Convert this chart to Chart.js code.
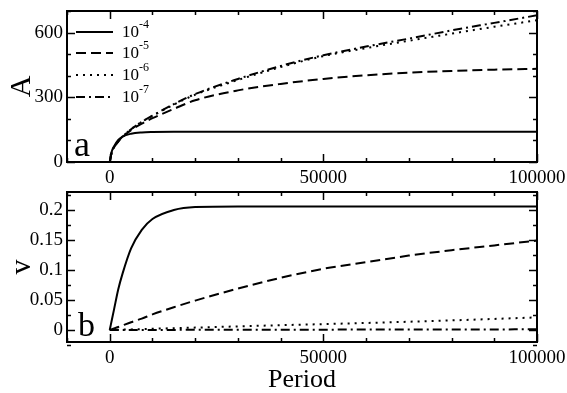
<!DOCTYPE html>
<html>
<head>
<meta charset="utf-8">
<script src="https://cdn.jsdelivr.net/npm/chart.js@4.4.1/dist/chart.umd.min.js"></script>
<style>
html,body{margin:0;padding:0;background:#fff;}
#wrap{position:relative;width:567px;height:393px;overflow:hidden;}
#c1{position:absolute;left:0;top:0;}
#c2{position:absolute;left:0;top:185px;}
</style>
</head>
<body>
<div id="wrap">
<canvas id="c1" width="567" height="185"></canvas>
<canvas id="c2" width="567" height="208"></canvas>
</div>
<script>
// ---- data ----
const periods = [0, 500, 1000, 2000, 3000, 5000, 7500, 10000, 15000, 20000, 30000, 40000, 50000, 60000, 70000, 80000, 90000, 100000];
const seriesNames = ["-4", "-5", "-6", "-7"];

// panel a : amplitude A
const A_1e4 = [0, 50, 72, 102, 118, 131, 137, 139, 140, 140, 140, 140, 140, 140, 140, 140, 140, 140];
const A_1e5 = [0, 48, 68, 95, 116, 148, 178, 203, 246, 286, 332, 362, 385, 402, 414, 422, 428, 432];
const A_1e6 = [0, 48, 68, 96, 118, 152, 186, 214, 266, 312, 380, 440, 491, 528, 562, 595, 627, 657];
const A_1e7 = [0, 48, 68, 96, 118, 152, 186, 215, 268, 315, 385, 445, 495, 535, 572, 610, 645, 680];

// panel b : velocity v
const v_1e4 = [0, 0.017, 0.034, 0.068, 0.094, 0.136, 0.167, 0.185, 0.200, 0.205, 0.206, 0.206, 0.206, 0.206, 0.206, 0.206, 0.206, 0.206];
const v_1e5 = [0, 0.0013, 0.0026, 0.005, 0.0077, 0.013, 0.019, 0.026, 0.038, 0.049, 0.069, 0.087, 0.102, 0.113, 0.124, 0.133, 0.141, 0.149];
const v_1e6 = [0, 0.0001, 0.0002, 0.0004, 0.0006, 0.001, 0.0015, 0.002, 0.003, 0.004, 0.006, 0.008, 0.0098, 0.0117, 0.0138, 0.016, 0.0185, 0.021];
const v_1e7 = [0, 0, 0, 0, 0.0001, 0.0001, 0.0001, 0.0002, 0.0002, 0.0003, 0.0004, 0.0005, 0.0006, 0.0007, 0.0008, 0.0009, 0.001, 0.0011];

const xTicksMajor = [0, 50000, 100000];
const aTicksMajor = [0, 300, 600];
const vTicksMajor = [0, 0.05, 0.1, 0.15, 0.2];

// ---- styles ----
const FONT = "'Liberation Serif', 'Times New Roman', serif";
const dashes = [[], [10, 5], [2, 5], [9, 4, 2, 4]];

function pts(ys) { return periods.map((p, i) => ({x: p, y: ys[i]})); }
function mkSets(arrs) {
  return arrs.map((a, i) => ({
    label: "10" + seriesNames[i],
    data: pts(a),
    borderColor: "#000",
    borderWidth: 2,
    borderDash: dashes[i],
    pointRadius: 0,
    fill: false,
    cubicInterpolationMode: "monotone"
  }));
}

const framePlugin = {
  id: "frame",
  afterDraw(chart, args, opts) {
    const ctx = chart.ctx, ca = chart.chartArea;
    const xs = chart.scales.x, ys = chart.scales.y;
    ctx.save();
    ctx.strokeStyle = "#000";
    ctx.lineWidth = 2;
    ctx.setLineDash([]);
    ctx.strokeRect(ca.left, ca.top, ca.right - ca.left, ca.bottom - ca.top);
    ctx.lineWidth = 1.5;
    for (let v = opts.xMin; v <= opts.xMax + 1e-9; v += opts.xMinor) {
      const px = Math.round(xs.getPixelForValue(v)) + 0.5;
      const major = Math.abs(v / opts.xMajor - Math.round(v / opts.xMajor)) < 1e-6;
      const L = major ? 8 : 4;
      ctx.beginPath();
      ctx.moveTo(px, ca.bottom); ctx.lineTo(px, ca.bottom - L);
      ctx.moveTo(px, ca.top); ctx.lineTo(px, ca.top + L);
      ctx.stroke();
    }
    for (let k = 0; ; k++) {
      const v = opts.yStart + k * opts.yMinor;
      if (v > opts.yMax + 1e-9) break;
      const py = Math.round(ys.getPixelForValue(v)) + 0.5;
      const major = Math.abs(v / opts.yMajor - Math.round(v / opts.yMajor)) < 1e-6;
      const L = major ? 8 : 4;
      ctx.beginPath();
      ctx.moveTo(ca.left, py); ctx.lineTo(ca.left + L, py);
      ctx.moveTo(ca.right, py); ctx.lineTo(ca.right - L, py);
      ctx.stroke();
    }
    ctx.fillStyle = "#000";
    ctx.font = opts.letterSize + "px " + FONT;
    ctx.textBaseline = "alphabetic";
    ctx.textAlign = "left";
    ctx.fillText(opts.letter, ca.left + opts.letterDx, ca.bottom - opts.letterDy);
    if (opts.legend) {
      const rows = [32, 53, 75, 97];
      chart.data.datasets.forEach((ds, i) => {
        const y = rows[i];
        ctx.lineWidth = 2;
        ctx.setLineDash(ds.borderDash);
        ctx.beginPath();
        ctx.moveTo(76, y); ctx.lineTo(113, y);
        ctx.stroke();
        ctx.setLineDash([]);
        ctx.font = "17px " + FONT;
        ctx.fillText("10", 122, y + 5);
        const w = ctx.measureText("10").width;
        ctx.font = "12px " + FONT;
        ctx.fillText(seriesNames[i], 122 + w, y - 4);
      });
    }
    ctx.restore();
  }
};

function xScale(withTitle, height) {
  return {
    type: "linear", min: -10000, max: 100000,
    grid: {display: false, drawTicks: false},
    border: {display: false},
    afterBuildTicks: s => { s.ticks = xTicksMajor.map(v => ({value: v})); },
    afterFit: s => { s.height = height; s.paddingLeft = 0; s.paddingRight = 0; s.paddingTop = 0; s.paddingBottom = 0; },
    ticks: {
      color: "#000", padding: 5, maxRotation: 0, autoSkip: false,
      font: {family: FONT, size: 19},
      callback: v => String(v)
    },
    title: withTitle ? {display: true, text: "Period", color: "#000",
      font: {family: FONT, size: 26, lineHeight: 1}, padding: {top: 0, bottom: 0}} : {display: false}
  };
}
function yScale(min, max, major, title, fmt) {
  return {
    type: "linear", min: min, max: max,
    grid: {display: false, drawTicks: false},
    border: {display: false},
    afterBuildTicks: s => { s.ticks = major.map(v => ({value: v})); },
    afterFit: s => { s.width = 67; s.paddingLeft = 0; s.paddingRight = 0; s.paddingTop = 0; s.paddingBottom = 0; },
    ticks: {color: "#000", padding: 4, font: {family: FONT, size: 19}, callback: fmt},
    title: {display: true, text: title, color: "#000",
      font: {family: FONT, size: 30, lineHeight: 1}, padding: {top: 7, bottom: 0}}
  };
}

Chart.defaults.devicePixelRatio = 1;

new Chart(document.getElementById("c1"), {
  type: "line",
  data: {datasets: mkSets([A_1e4, A_1e5, A_1e6, A_1e7])},
  options: {
    responsive: false, animation: false, devicePixelRatio: 1,
    layout: {padding: {top: 11, right: 30, left: 0, bottom: 0}},
    plugins: {
      legend: {display: false}, tooltip: {enabled: false},
      frame: {xMin: -10000, xMax: 100000, xMinor: 10000, xMajor: 50000,
              yStart: 0, yMax: 700, yMinor: 100, yMajor: 300,
              letter: "a", letterSize: 36, letterDx: 7, letterDy: 6, legend: true}
    },
    scales: {
      x: xScale(false, 23),
      y: yScale(0, 700, aTicksMajor, "A", v => String(v))
    }
  },
  plugins: [framePlugin]
});

new Chart(document.getElementById("c2"), {
  type: "line",
  data: {datasets: mkSets([v_1e4, v_1e5, v_1e6, v_1e7])},
  options: {
    responsive: false, animation: false, devicePixelRatio: 1,
    layout: {padding: {top: 7, right: 30, left: 0, bottom: 0}},
    plugins: {
      legend: {display: false}, tooltip: {enabled: false},
      frame: {xMin: -10000, xMax: 100000, xMinor: 10000, xMajor: 50000,
              yStart: -0.025, yMax: 0.23, yMinor: 0.025, yMajor: 0.05,
              letter: "b", letterSize: 34, letterDx: 11, letterDy: 6, legend: false}
    },
    scales: {
      x: xScale(true, 51),
      y: yScale(-0.02, 0.23, vTicksMajor, "v", v => String(+v.toFixed(3)))
    }
  },
  plugins: [framePlugin]
});
</script>
</body>
</html>
